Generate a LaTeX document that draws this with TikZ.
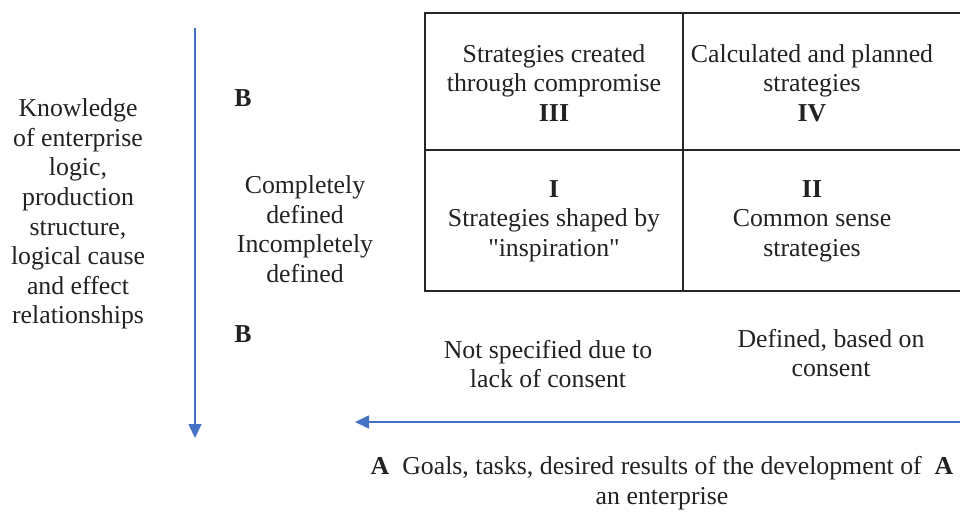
\documentclass[tikz,border=0pt]{standalone}
\usepackage{fontspec}
\setmainfont{Liberation Serif}
\usetikzlibrary{arrows.meta}
\definecolor{axisblue}{HTML}{4472C4}
\definecolor{gridgray}{HTML}{262626}
\definecolor{txt}{HTML}{222222}
\newcommand\straightq{\XeTeXglyph\XeTeXcharglyph"22\relax}
\tikzset{
  lbl/.style={align=center, text=txt, font=\fontsize{25.8}{29.6}\selectfont, inner sep=0pt},
  axis/.style={draw=axisblue, line width=1.6pt, -{Triangle[length=14pt,width=13pt]}},
  grid/.style={draw=gridgray, line width=2pt}
}
\begin{document}
\begin{tikzpicture}[x=1pt,y=-1pt]
        \useasboundingbox (0,0) rectangle (960,511);
        % grid
        \draw [grid] (975,13) -- (425,13) -- (425,291) -- (975,291);
        \draw [grid] (425,150) -- (975,150);
        \draw [grid] (683,13) -- (683,291);
        \node [lbl] (c3) at (554,83) {Strategies created\\through compromise\\\textbf{III}};
        \node [lbl] (c4) at (812,83) {Calculated and planned\\strategies\\\textbf{IV}};
        \node [lbl] (c1) at (554,221) {\textbf{I}\\Strategies shaped by\\\straightq inspiration\straightq};
        \node [lbl] (c2) at (812,221) {\textbf{II}\\Common sense\\strategies};
        % axes
        \coordinate (vtop) at (195,28);
        \coordinate (vbot) at (195,438);
        \coordinate (hright) at (962,422);
        \coordinate (hleft) at (355,422);
        \draw [axis] (vtop) -- (vbot);
        \draw [axis] (hright) -- (hleft);
        \node [lbl] (know) at (78,214) {Knowledge\\of enterprise\\logic,\\production\\structure,\\logical cause\\and effect\\relationships};
        \node [lbl] (b1) at (243,98) {\textbf{B}};
        \node [lbl] (b2) at (243,334) {\textbf{B}};
        \node [lbl] (def) at (305,229) {Completely\\defined\\Incompletely\\defined};
        \node [lbl] (notspec) at (548,364) {Not specified due to\\lack of consent};
        \node [lbl] (defcons) at (831,353) {Defined, based on\\consent};
        \node [lbl] (goals) at (662,483) {\textbf{A}\enspace Goals, tasks, desired results of the development of\enspace\textbf{A}\\an enterprise};
    \end{tikzpicture}
\end{document}
